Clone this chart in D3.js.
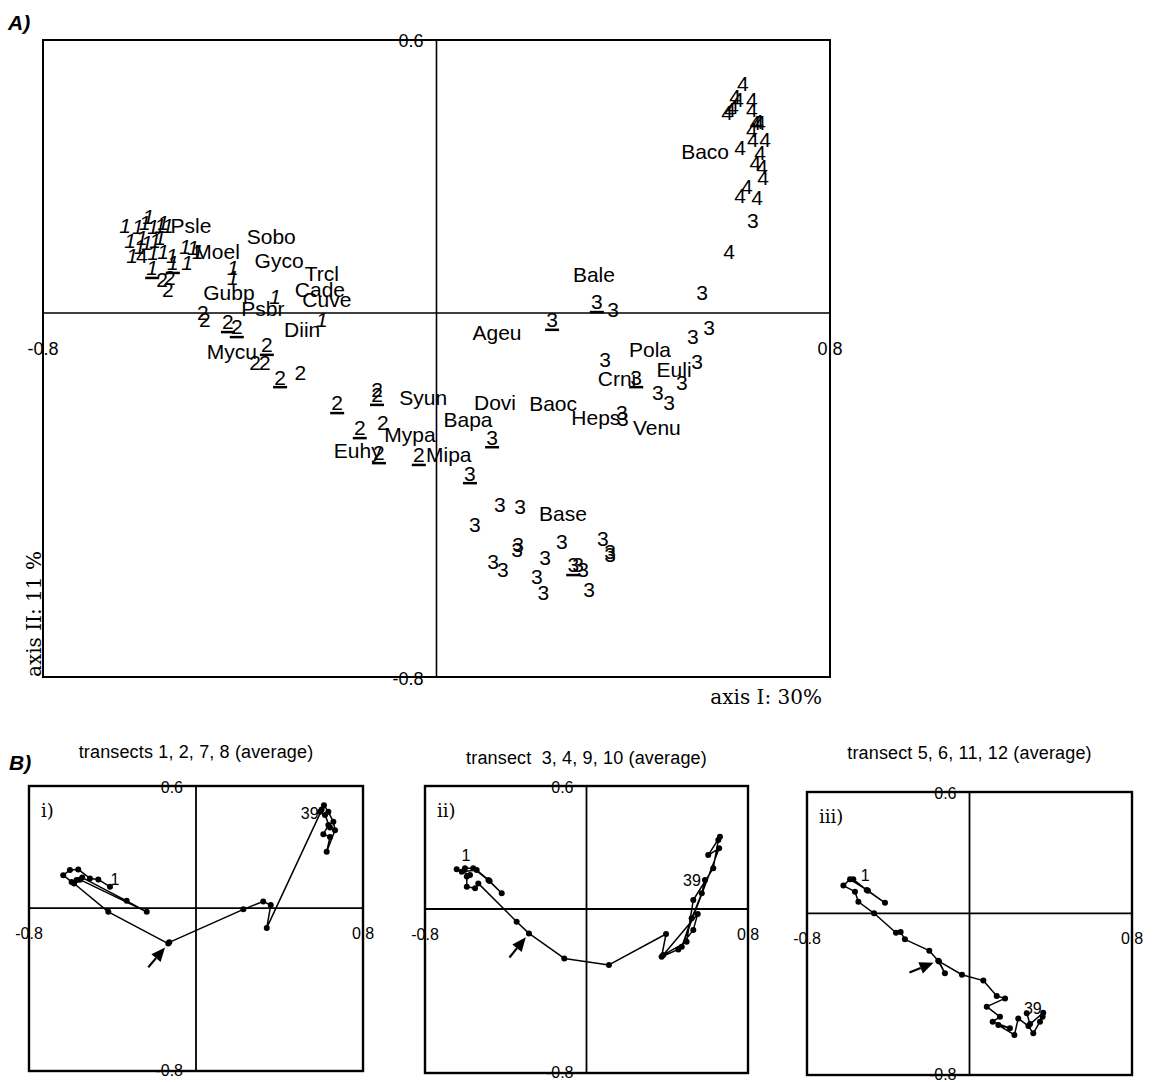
<!DOCTYPE html>
<html>
<head>
<meta charset="utf-8">
<script src="https://cdn.jsdelivr.net/npm/d3@7"></script>
<style>
  body { margin: 0; background: #fff; }
  svg { display: block; }
</style>
</head>
<body>
<svg id="fig" width="1153" height="1082"></svg>
<script>
// ---------- ordination data (axis I, axis II) ----------
const xTickLabels = ["-0.8", "0.8"];
const yTickLabels = ["-0.8", "0.6"];
const axisDomainX = [-0.8, 0.8];
const axisDomainY = [-0.8, 0.6];

// species scores: [name, axis I, axis II]
const speciesScores = [
  ["Psle", -0.499, 0.193], ["Sobo", -0.336, 0.167], ["Moel", -0.446, 0.134],
  ["Gyco", -0.320, 0.114], ["Trcl", -0.233, 0.086], ["Cade", -0.237, 0.051],
  ["Cuve", -0.223, 0.029], ["Gubp", -0.422, 0.044], ["Psbr", -0.353, 0.009],
  ["Diin", -0.273, -0.037], ["Mycu", -0.416, -0.086], ["Syun", -0.027, -0.187],
  ["Dovi", 0.119, -0.198], ["Bapa", 0.064, -0.235], ["Mypa", -0.054, -0.268],
  ["Euhy", -0.160, -0.303], ["Mipa", 0.025, -0.312], ["Ageu", 0.123, -0.044],
  ["Bale", 0.320, 0.084], ["Pola", 0.434, -0.081], ["Euli", 0.483, -0.125],
  ["Crni", 0.367, -0.145], ["Baoc", 0.237, -0.200], ["Heps", 0.324, -0.229],
  ["Venu", 0.448, -0.253], ["Base", 0.257, -0.440], ["Baco", 0.546, 0.354]
];

// sample scores by period: [axis I, axis II, underlined]
const samplesPeriod1 = [
  [-0.633, 0.193, 0], [-0.607, 0.189, 0], [-0.586, 0.211, 0], [-0.576, 0.189, 0],
  [-0.562, 0.193, 0], [-0.556, 0.198, 0], [-0.546, 0.193, 0], [-0.593, 0.198, 0],
  [-0.623, 0.160, 0], [-0.599, 0.165, 0], [-0.589, 0.154, 0], [-0.572, 0.160, 0],
  [-0.562, 0.165, 0], [-0.603, 0.145, 0], [-0.619, 0.127, 0], [-0.576, 0.132, 0],
  [-0.556, 0.134, 0], [-0.538, 0.127, 0], [-0.511, 0.145, 0], [-0.495, 0.143, 0],
  [-0.485, 0.134, 0], [-0.507, 0.110, 0], [-0.578, 0.099, 1], [-0.536, 0.110, 1],
  [-0.414, 0.099, 0], [-0.414, 0.077, 0], [-0.328, 0.035, 0], [-0.233, -0.015, 0]
];
const samplesPeriod2 = [
  [-0.558, 0.073, 0], [-0.542, 0.077, 0], [-0.546, 0.051, 0], [-0.475, 0.000, 0],
  [-0.471, -0.015, 0], [-0.424, -0.020, 1], [-0.406, -0.031, 1], [-0.345, -0.070, 1],
  [-0.369, -0.110, 0], [-0.349, -0.110, 0], [-0.318, -0.141, 1], [-0.277, -0.132, 0],
  [-0.202, -0.198, 1], [-0.121, -0.169, 0], [-0.121, -0.180, 1], [-0.156, -0.253, 1],
  [-0.109, -0.242, 0], [-0.117, -0.308, 1], [-0.036, -0.312, 1]
];
const samplesPeriod3 = [
  [0.113, -0.273, 1], [0.068, -0.352, 1], [0.326, 0.024, 1], [0.359, 0.007, 0],
  [0.235, -0.015, 1], [0.540, 0.044, 0], [0.521, -0.053, 0], [0.554, -0.033, 0],
  [0.343, -0.103, 0], [0.406, -0.141, 1], [0.530, -0.108, 0], [0.499, -0.154, 0],
  [0.450, -0.176, 0], [0.473, -0.198, 0], [0.377, -0.220, 0], [0.379, -0.233, 0],
  [0.129, -0.422, 0], [0.170, -0.426, 0], [0.078, -0.466, 0], [0.166, -0.510, 0],
  [0.164, -0.521, 0], [0.255, -0.503, 0], [0.338, -0.495, 0], [0.353, -0.525, 0],
  [0.353, -0.532, 0], [0.115, -0.547, 0], [0.135, -0.565, 0], [0.221, -0.538, 0],
  [0.204, -0.580, 0], [0.217, -0.615, 0], [0.278, -0.554, 1], [0.288, -0.554, 0],
  [0.298, -0.565, 0], [0.310, -0.609, 0], [0.643, 0.204, 0]
];
const samplesPeriod4 = [
  [0.623, 0.505, 0], [0.607, 0.475, 0], [0.613, 0.468, 0], [0.597, 0.446, 0],
  [0.603, 0.453, 0], [0.591, 0.440, 0], [0.641, 0.468, 0], [0.641, 0.446, 0],
  [0.648, 0.418, 0], [0.654, 0.420, 0], [0.658, 0.418, 0], [0.641, 0.402, 0],
  [0.668, 0.380, 0], [0.643, 0.380, 0], [0.617, 0.363, 0], [0.658, 0.352, 0],
  [0.648, 0.330, 0], [0.662, 0.321, 0], [0.664, 0.297, 0], [0.631, 0.277, 0],
  [0.617, 0.259, 0], [0.652, 0.253, 0], [0.595, 0.134, 0], [-0.599, 0.127, 0]
];

// averaged trajectories, sampling dates 1 ... 39
const trajTransects1278 = [
  [-0.412, 0.105], [-0.468, 0.141], [-0.508, 0.146], [-0.564, 0.190], [-0.604, 0.187],
  [-0.636, 0.162], [-0.596, 0.129], [-0.572, 0.138], [-0.545, 0.150], [-0.332, 0.036],
  [-0.236, -0.018], [-0.556, 0.140], [-0.584, 0.121], [-0.420, -0.018], [-0.133, -0.174],
  [-0.128, -0.168], [0.227, -0.006], [0.322, 0.033], [0.358, 0.015], [0.339, -0.097],
  [0.613, 0.506], [0.634, 0.473], [0.658, 0.424], [0.666, 0.383], [0.626, 0.277],
  [0.642, 0.350], [0.610, 0.363], [0.634, 0.408], [0.642, 0.396], [0.618, 0.457],
  [0.594, 0.473], [0.602, 0.485]
];
const trajTransects34910 = [
  [-0.602, 0.199], [-0.561, 0.199], [-0.486, 0.141], [-0.420, 0.077], [-0.480, 0.137],
  [-0.544, 0.190], [-0.618, 0.182], [-0.643, 0.194], [-0.577, 0.166], [-0.593, 0.158],
  [-0.593, 0.109], [-0.552, 0.101], [-0.536, 0.125], [-0.346, -0.062], [-0.285, -0.119],
  [-0.110, -0.241], [0.111, -0.273], [0.394, -0.122], [0.372, -0.233], [0.455, -0.197],
  [0.529, -0.102], [0.551, -0.024], [0.380, -0.224], [0.496, -0.160], [0.529, 0.044],
  [0.628, 0.199], [0.653, 0.337], [0.661, 0.353], [0.603, 0.263], [0.657, 0.296],
  [0.472, -0.184], [0.521, -0.045], [0.571, 0.077], [0.587, 0.141]
];
const trajTransects5611 = [
  [-0.572, 0.168], [-0.506, 0.115], [-0.416, 0.052], [-0.500, 0.112], [-0.588, 0.168],
  [-0.621, 0.137], [-0.564, 0.107], [-0.547, 0.057], [-0.470, 0.000], [-0.362, -0.096],
  [-0.339, -0.093], [-0.318, -0.129], [-0.198, -0.185], [-0.154, -0.235], [-0.121, -0.297],
  [-0.150, -0.238], [-0.037, -0.304], [0.068, -0.333], [0.134, -0.409], [0.175, -0.421],
  [0.085, -0.462], [0.150, -0.512], [0.114, -0.536], [0.199, -0.569], [0.142, -0.553],
  [0.221, -0.602], [0.240, -0.520], [0.290, -0.558], [0.314, -0.594], [0.347, -0.536],
  [0.360, -0.512], [0.363, -0.492], [0.298, -0.548], [0.282, -0.495]
];
const panelTitles = [
  "transects 1, 2, 7, 8 (average)",
  "transect  3, 4, 9, 10 (average)",
  "transect 5, 6, 11, 12 (average)"
];
const panelNumerals = ["i)", "ii)", "iii)"];
const firstLabel = "1";
const lastLabel = "39";

// ---------- drawing ----------
const SANS = "'Liberation Sans', Arial, Helvetica, sans-serif";
const SERIF = "'DejaVu Serif', 'Liberation Serif', serif";
const svg = d3.select("#fig");

function drawFrame(g, x, y, o) {
  const [xl, xr] = x.range();
  const [yb, yt] = y.range();
  g.append("rect")
    .attr("x", xl).attr("y", yt).attr("width", xr - xl).attr("height", yb - yt)
    .attr("fill", "none").attr("stroke", "#000").attr("stroke-width", o.frameW);
  g.append("line")
    .attr("x1", x(0)).attr("x2", x(0)).attr("y1", yt).attr("y2", yb)
    .attr("stroke", "#000").attr("stroke-width", o.axisW);
  g.append("line")
    .attr("x1", xl).attr("x2", xr).attr("y1", y(0)).attr("y2", y(0))
    .attr("stroke", "#000").attr("stroke-width", o.axisW);

  const t = g.append("g").attr("font-family", SANS).attr("font-size", o.tickSize).attr("fill", "#000");
  // vertical-axis extremes sit on the frame, just left of the zero line
  t.append("text").attr("x", x(0) - o.tickGap).attr("y", y(axisDomainY[1]) + 1)
    .attr("dy", "0.35em").attr("text-anchor", "end").text(yTickLabels[1]);
  t.append("text").attr("x", x(0) - o.tickGap).attr("y", y(axisDomainY[0]) + o.bottomShift)
    .attr("dy", "0.35em").attr("text-anchor", "end").text(yTickLabels[0]);
  // horizontal-axis extremes below the zero line, centred on the frame
  t.append("text").attr("x", x(axisDomainX[0])).attr("y", y(0) + o.tickDrop)
    .attr("dy", "0.35em").attr("text-anchor", "middle").text(xTickLabels[0]);
  t.append("text").attr("x", x(axisDomainX[1])).attr("y", y(0) + o.tickDrop)
    .attr("dy", "0.35em").attr("text-anchor", "middle").text(xTickLabels[1]);
}

// ----- panel A -----
const xA = d3.scaleLinear().domain(axisDomainX).range([43, 830]);
const yA = d3.scaleLinear().domain(axisDomainY).range([677, 40]);
const gA = svg.append("g");
drawFrame(gA, xA, yA, { frameW: 2, axisW: 1.6, tickSize: 18, tickGap: 13, tickDrop: 36, bottomShift: 2 });

gA.append("text").attr("x", 8).attr("y", 30)
  .attr("font-family", SANS).attr("font-size", 21).attr("font-weight", "bold")
  .attr("font-style", "italic").text("A)");

gA.append("text").attr("x", 822).attr("y", 704).attr("text-anchor", "end")
  .attr("font-family", SERIF).attr("font-size", 20).text("axis I: 30%");
gA.append("text").attr("transform", "translate(41,677) rotate(-90)")
  .attr("font-family", SERIF).attr("font-size", 20).text("axis II: 11 %");

// species names
gA.append("g").attr("font-family", SANS).attr("font-size", 21)
  .selectAll("text").data(speciesScores).join("text")
  .attr("x", d => xA(d[1])).attr("y", d => yA(d[2]))
  .attr("dy", "0.35em").attr("text-anchor", "middle").text(d => d[0]);

// sample numbers (period code), underlined where flagged
function drawSamples(data, label, italic, size) {
  const g = gA.append("g").attr("font-family", SANS).attr("font-size", size)
    .attr("font-style", italic ? "italic" : "normal");
  g.selectAll("text").data(data).join("text")
    .attr("x", d => xA(d[0])).attr("y", d => yA(d[1]))
    .attr("dy", "0.35em").attr("text-anchor", "middle").text(label);
  g.selectAll("line").data(data.filter(d => d[2])).join("line")
    .attr("x1", d => xA(d[0]) - 7).attr("x2", d => xA(d[0]) + 7)
    .attr("y1", d => yA(d[1]) + 10).attr("y2", d => yA(d[1]) + 10)
    .attr("stroke", "#000").attr("stroke-width", 2.5);
}
drawSamples(samplesPeriod1, "1", true, 21);
drawSamples(samplesPeriod2, "2", false, 21);
drawSamples(samplesPeriod3, "3", false, 21);
drawSamples(samplesPeriod4, "4", false, 21);

// ----- panel B -----
svg.append("text").attr("x", 9).attr("y", 770)
  .attr("font-family", SANS).attr("font-size", 21).attr("font-weight", "bold")
  .attr("font-style", "italic").text("B)");

const panels = [
  { traj: trajTransects1278, arrowIdx: 14, xr: [29, 363], yr: [1071, 786], titleY: 758,
    arrowDeg: 50, firstOff: [5, -7], lastOff: [-12, 4] },
  { traj: trajTransects34910, arrowIdx: 14, xr: [425, 748], yr: [1073, 786], titleY: 764,
    arrowDeg: 51, firstOff: [1, -13], lastOff: [-13, 0] },
  { traj: trajTransects5611, arrowIdx: 13, xr: [807, 1132], yr: [1075, 792], titleY: 759,
    arrowDeg: 22, firstOff: [12, -4], lastOff: [6, -5] }
];

panels.forEach((p, i) => {
  const x = d3.scaleLinear().domain(axisDomainX).range(p.xr);
  const y = d3.scaleLinear().domain(axisDomainY).range(p.yr);
  const g = svg.append("g");
  drawFrame(g, x, y, { frameW: 2.4, axisW: 1.8, tickSize: 16, tickGap: 13, tickDrop: 25, bottomShift: -1 });

  g.append("text").attr("x", (p.xr[0] + p.xr[1]) / 2).attr("y", p.titleY)
    .attr("text-anchor", "middle").attr("font-family", SANS).attr("font-size", 18)
    .attr("letter-spacing", 0.15).style("white-space", "pre").text(panelTitles[i]);

  g.append("text").attr("x", p.xr[0] + 12).attr("y", p.yr[1] + 31)
    .attr("font-family", SERIF).attr("font-size", 18).text(panelNumerals[i]);

  const line = d3.line().x(d => x(d[0])).y(d => y(d[1]));
  g.append("path").datum(p.traj).attr("d", line)
    .attr("fill", "none").attr("stroke", "#000").attr("stroke-width", 1.5)
    .attr("stroke-linejoin", "round");
  g.selectAll("circle").data(p.traj).join("circle")
    .attr("cx", d => x(d[0])).attr("cy", d => y(d[1])).attr("r", 3).attr("fill", "#000");

  const first = p.traj[0], last = p.traj[p.traj.length - 1];
  const lab = g.append("g").attr("font-family", SANS).attr("font-size", 16);
  lab.append("text").attr("x", x(first[0]) + p.firstOff[0]).attr("y", y(first[1]) + p.firstOff[1])
    .attr("dy", "0.35em").attr("text-anchor", "middle").text(firstLabel);
  lab.append("text").attr("x", x(last[0]) + p.lastOff[0]).attr("y", y(last[1]) + p.lastOff[1])
    .attr("dy", "0.35em").attr("text-anchor", "middle").text(lastLabel);

  // arrow pointing at the marked sampling date
  const t = p.traj[p.arrowIdx];
  const a = p.arrowDeg * Math.PI / 180;
  const ux = Math.cos(a), uy = -Math.sin(a);      // screen direction tail -> tip
  const px = -uy, py = ux;
  const tipX = x(t[0]) - ux * 5, tipY = y(t[1]) - uy * 5;
  const headL = 14, headW = 12, total = 26;
  const baseX = tipX - ux * headL, baseY = tipY - uy * headL;
  g.append("line")
    .attr("x1", tipX - ux * total).attr("y1", tipY - uy * total)
    .attr("x2", baseX).attr("y2", baseY)
    .attr("stroke", "#000").attr("stroke-width", 2.2);
  g.append("path")
    .attr("d", `M${tipX},${tipY} L${baseX + px * headW / 2},${baseY + py * headW / 2} L${baseX - px * headW / 2},${baseY - py * headW / 2} Z`)
    .attr("fill", "#000");
});
</script>
</body>
</html>
